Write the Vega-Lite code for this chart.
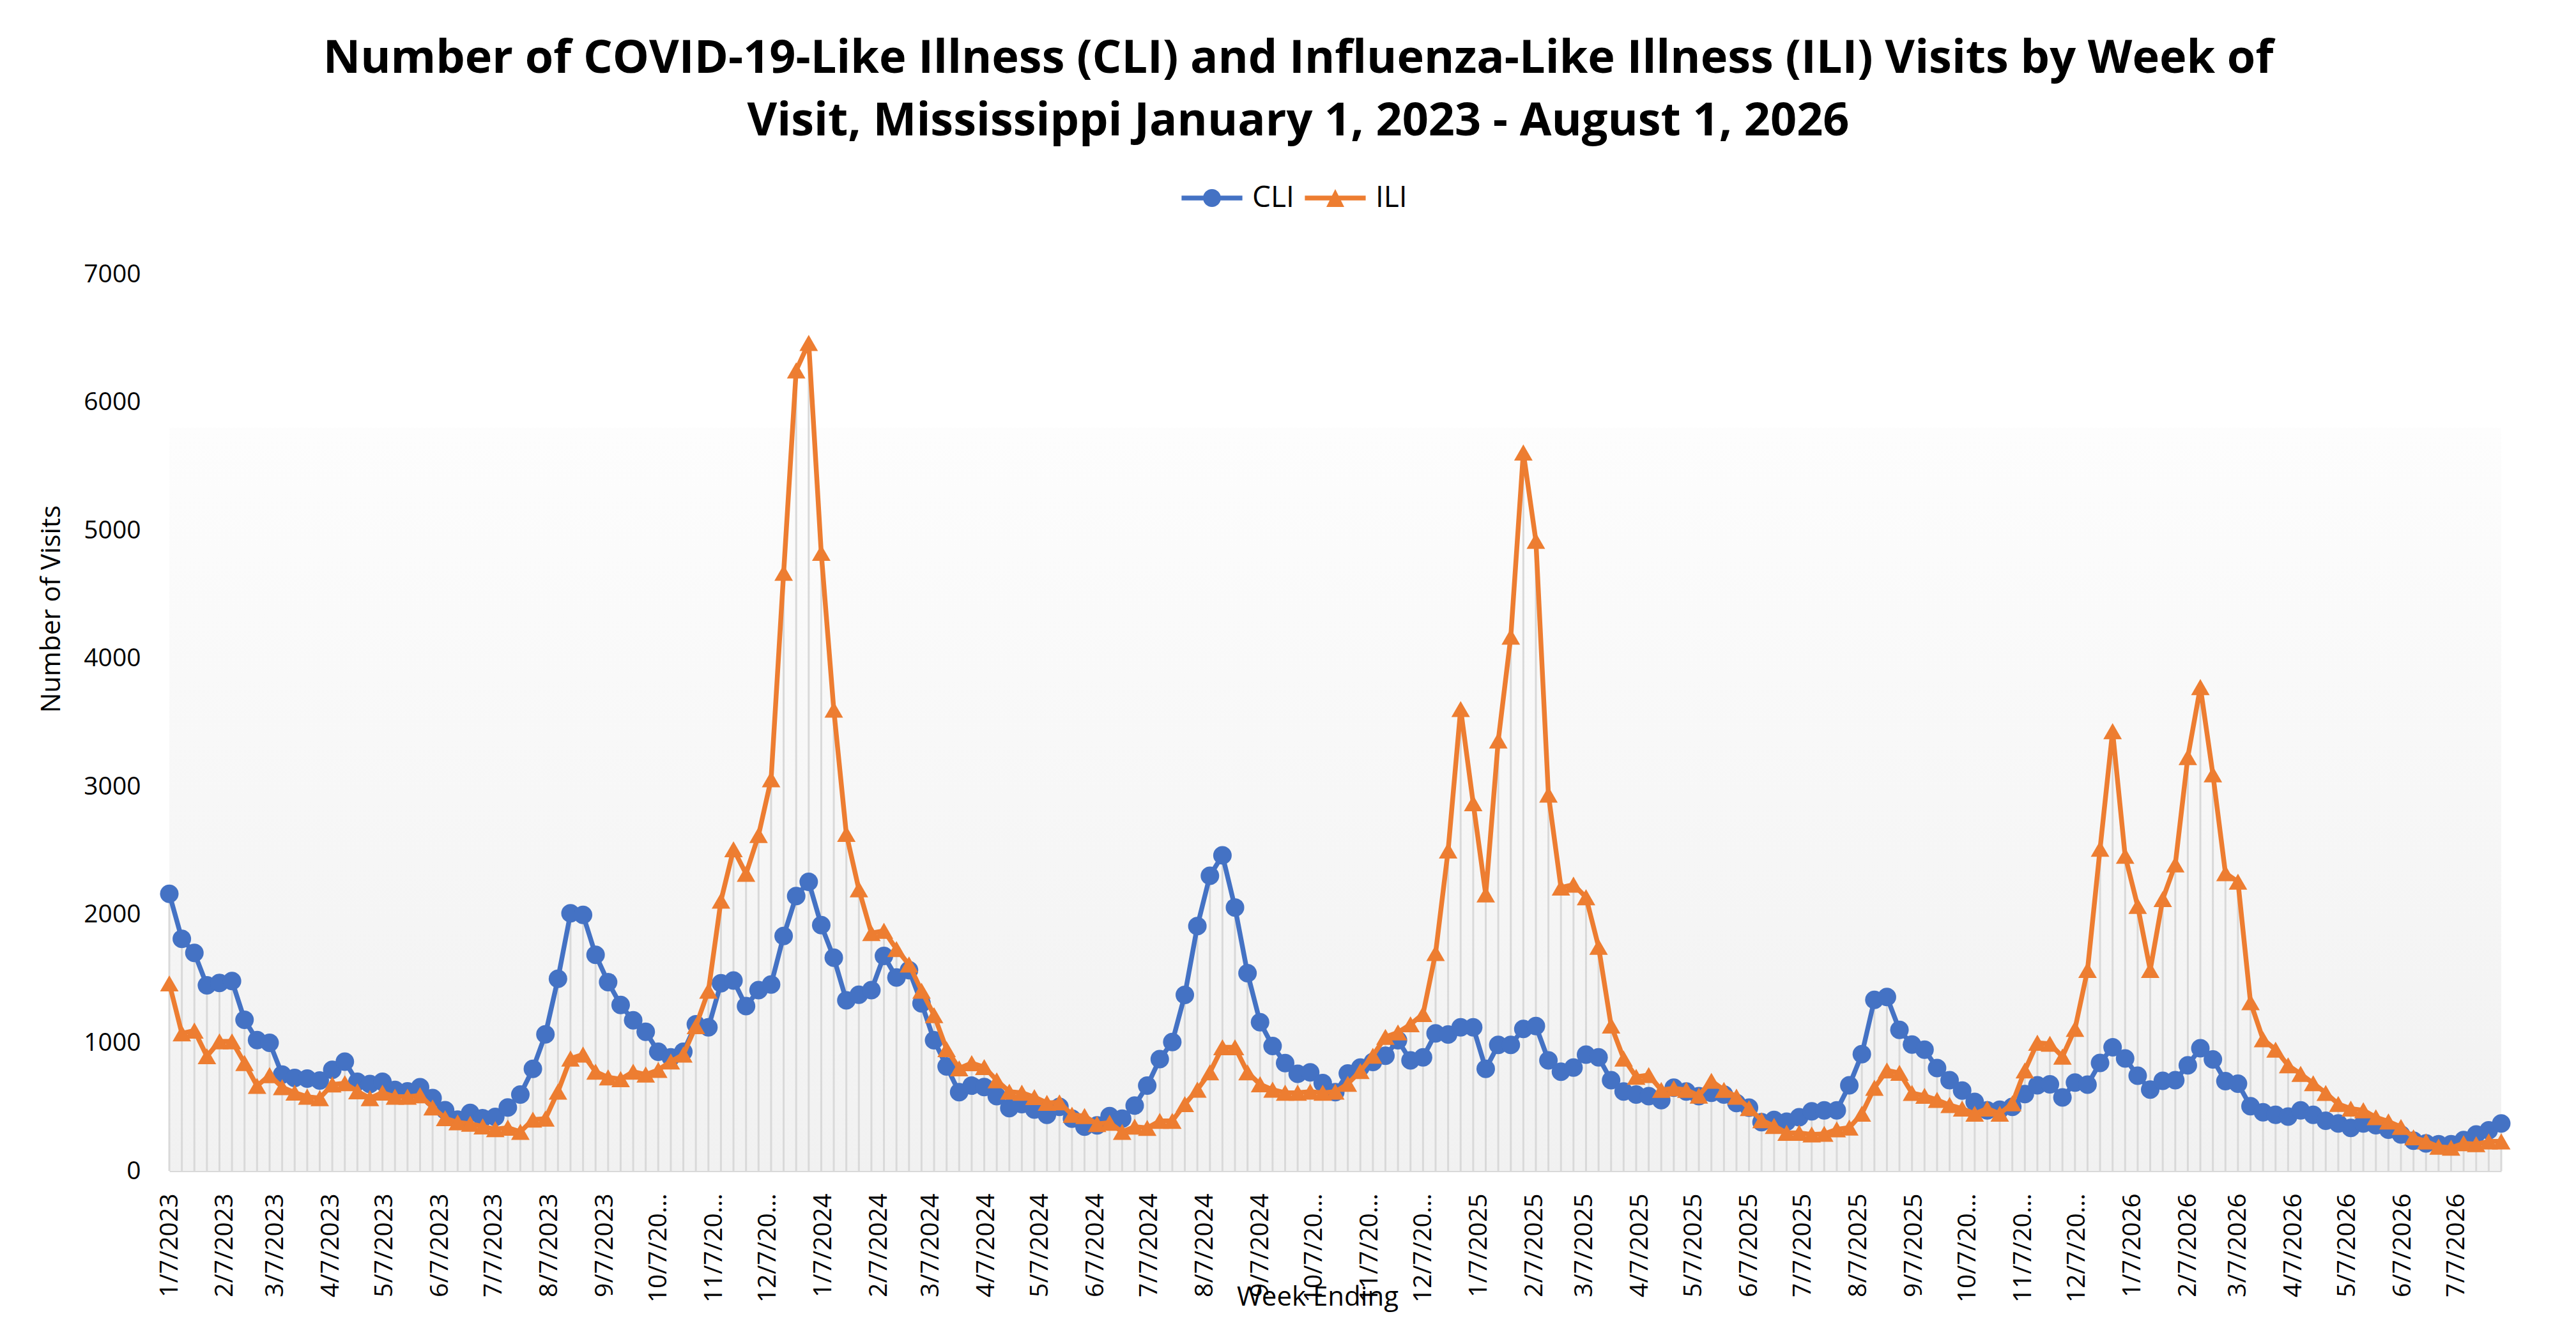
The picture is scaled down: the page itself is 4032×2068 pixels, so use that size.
{
  "$schema": "https://vega.github.io/schema/vega-lite/v6.json",
  "width": 3650,
  "height": 1404,
  "autosize": {"type": "none"},
  "padding": {"left": 265, "top": 429, "right": 117, "bottom": 235},
  "background": "white",
  "title": {
    "text": [
      "Number of COVID-19-Like Illness (CLI) and Influenza-Like Illness (ILI) Visits by Week of",
      "Visit, Mississippi January 1, 2023 - August 1, 2026"
    ],
    "anchor": "middle",
    "font": "Open Sans",
    "fontSize": 72,
    "fontWeight": "bold",
    "color": "black",
    "lineHeight": 98,
    "dx": -58,
    "offset": 60
  },
  "data": {
    "values": [
      {"week": "2023-01-07", "CLI": 2162, "ILI": 1463},
      {"week": "2023-01-14", "CLI": 1811, "ILI": 1074},
      {"week": "2023-01-21", "CLI": 1701, "ILI": 1095},
      {"week": "2023-01-28", "CLI": 1448, "ILI": 895},
      {"week": "2023-02-04", "CLI": 1467, "ILI": 1011},
      {"week": "2023-02-11", "CLI": 1482, "ILI": 1011},
      {"week": "2023-02-18", "CLI": 1179, "ILI": 842},
      {"week": "2023-02-25", "CLI": 1021, "ILI": 663},
      {"week": "2023-03-04", "CLI": 1000, "ILI": 747},
      {"week": "2023-03-11", "CLI": 752, "ILI": 653},
      {"week": "2023-03-18", "CLI": 726, "ILI": 611},
      {"week": "2023-03-25", "CLI": 720, "ILI": 579},
      {"week": "2023-04-01", "CLI": 705, "ILI": 568},
      {"week": "2023-04-08", "CLI": 789, "ILI": 674},
      {"week": "2023-04-15", "CLI": 853, "ILI": 684},
      {"week": "2023-04-22", "CLI": 695, "ILI": 621},
      {"week": "2023-04-29", "CLI": 678, "ILI": 568},
      {"week": "2023-05-06", "CLI": 695, "ILI": 611},
      {"week": "2023-05-13", "CLI": 632, "ILI": 579},
      {"week": "2023-05-20", "CLI": 621, "ILI": 579},
      {"week": "2023-05-27", "CLI": 653, "ILI": 590},
      {"week": "2023-06-03", "CLI": 568, "ILI": 495},
      {"week": "2023-06-10", "CLI": 474, "ILI": 411},
      {"week": "2023-06-17", "CLI": 400, "ILI": 379},
      {"week": "2023-06-24", "CLI": 453, "ILI": 368},
      {"week": "2023-07-01", "CLI": 411, "ILI": 347},
      {"week": "2023-07-08", "CLI": 421, "ILI": 326},
      {"week": "2023-07-15", "CLI": 495, "ILI": 337},
      {"week": "2023-07-22", "CLI": 596, "ILI": 305},
      {"week": "2023-07-29", "CLI": 796, "ILI": 400},
      {"week": "2023-08-05", "CLI": 1066, "ILI": 408},
      {"week": "2023-08-12", "CLI": 1500, "ILI": 619},
      {"week": "2023-08-19", "CLI": 2010, "ILI": 877},
      {"week": "2023-08-26", "CLI": 1998, "ILI": 908},
      {"week": "2023-09-02", "CLI": 1687, "ILI": 774},
      {"week": "2023-09-09", "CLI": 1473, "ILI": 730},
      {"week": "2023-09-16", "CLI": 1295, "ILI": 716},
      {"week": "2023-09-23", "CLI": 1175, "ILI": 774},
      {"week": "2023-09-30", "CLI": 1086, "ILI": 752},
      {"week": "2023-10-07", "CLI": 930, "ILI": 788},
      {"week": "2023-10-14", "CLI": 886, "ILI": 854},
      {"week": "2023-10-21", "CLI": 930, "ILI": 908},
      {"week": "2023-10-28", "CLI": 1144, "ILI": 1130},
      {"week": "2023-11-04", "CLI": 1121, "ILI": 1406},
      {"week": "2023-11-11", "CLI": 1464, "ILI": 2109},
      {"week": "2023-11-18", "CLI": 1486, "ILI": 2510},
      {"week": "2023-11-25", "CLI": 1286, "ILI": 2319},
      {"week": "2023-12-02", "CLI": 1411, "ILI": 2621},
      {"week": "2023-12-09", "CLI": 1455, "ILI": 3057},
      {"week": "2023-12-16", "CLI": 1834, "ILI": 4668},
      {"week": "2023-12-23", "CLI": 2145, "ILI": 6248},
      {"week": "2023-12-30", "CLI": 2256, "ILI": 6462},
      {"week": "2024-01-06", "CLI": 1918, "ILI": 4824},
      {"week": "2024-01-13", "CLI": 1664, "ILI": 3600},
      {"week": "2024-01-20", "CLI": 1331, "ILI": 2630},
      {"week": "2024-01-27", "CLI": 1375, "ILI": 2198},
      {"week": "2024-02-03", "CLI": 1411, "ILI": 1856},
      {"week": "2024-02-10", "CLI": 1678, "ILI": 1874},
      {"week": "2024-02-17", "CLI": 1509, "ILI": 1731},
      {"week": "2024-02-24", "CLI": 1567, "ILI": 1611},
      {"week": "2024-03-02", "CLI": 1308, "ILI": 1406},
      {"week": "2024-03-09", "CLI": 1019, "ILI": 1215},
      {"week": "2024-03-16", "CLI": 815, "ILI": 950},
      {"week": "2024-03-23", "CLI": 614, "ILI": 800},
      {"week": "2024-03-30", "CLI": 665, "ILI": 841},
      {"week": "2024-04-06", "CLI": 655, "ILI": 810},
      {"week": "2024-04-13", "CLI": 583, "ILI": 707},
      {"week": "2024-04-20", "CLI": 490, "ILI": 618},
      {"week": "2024-04-27", "CLI": 521, "ILI": 610},
      {"week": "2024-05-04", "CLI": 479, "ILI": 576},
      {"week": "2024-05-11", "CLI": 438, "ILI": 531},
      {"week": "2024-05-18", "CLI": 500, "ILI": 535},
      {"week": "2024-05-25", "CLI": 407, "ILI": 438},
      {"week": "2024-06-01", "CLI": 345, "ILI": 428},
      {"week": "2024-06-08", "CLI": 355, "ILI": 366},
      {"week": "2024-06-15", "CLI": 428, "ILI": 376},
      {"week": "2024-06-22", "CLI": 407, "ILI": 304},
      {"week": "2024-06-29", "CLI": 510, "ILI": 345},
      {"week": "2024-07-06", "CLI": 665, "ILI": 335},
      {"week": "2024-07-13", "CLI": 872, "ILI": 390},
      {"week": "2024-07-20", "CLI": 1006, "ILI": 390},
      {"week": "2024-07-27", "CLI": 1374, "ILI": 521},
      {"week": "2024-08-03", "CLI": 1911, "ILI": 634},
      {"week": "2024-08-10", "CLI": 2304, "ILI": 769},
      {"week": "2024-08-17", "CLI": 2463, "ILI": 965},
      {"week": "2024-08-24", "CLI": 2056, "ILI": 965},
      {"week": "2024-08-31", "CLI": 1543, "ILI": 769},
      {"week": "2024-09-07", "CLI": 1161, "ILI": 676},
      {"week": "2024-09-14", "CLI": 975, "ILI": 634},
      {"week": "2024-09-21", "CLI": 841, "ILI": 610},
      {"week": "2024-09-28", "CLI": 758, "ILI": 610},
      {"week": "2024-10-05", "CLI": 769, "ILI": 618},
      {"week": "2024-10-12", "CLI": 686, "ILI": 610},
      {"week": "2024-10-19", "CLI": 614, "ILI": 618},
      {"week": "2024-10-26", "CLI": 760, "ILI": 680},
      {"week": "2024-11-02", "CLI": 806, "ILI": 779},
      {"week": "2024-11-09", "CLI": 850, "ILI": 899},
      {"week": "2024-11-16", "CLI": 899, "ILI": 1046},
      {"week": "2024-11-23", "CLI": 1019, "ILI": 1081},
      {"week": "2024-11-30", "CLI": 863, "ILI": 1144},
      {"week": "2024-12-07", "CLI": 886, "ILI": 1224},
      {"week": "2024-12-14", "CLI": 1073, "ILI": 1700},
      {"week": "2024-12-21", "CLI": 1064, "ILI": 2501},
      {"week": "2024-12-28", "CLI": 1121, "ILI": 3605},
      {"week": "2025-01-04", "CLI": 1121, "ILI": 2870},
      {"week": "2025-01-11", "CLI": 797, "ILI": 2158},
      {"week": "2025-01-18", "CLI": 984, "ILI": 3360},
      {"week": "2025-01-25", "CLI": 984, "ILI": 4170},
      {"week": "2025-02-01", "CLI": 1108, "ILI": 5607},
      {"week": "2025-02-08", "CLI": 1130, "ILI": 4918},
      {"week": "2025-02-15", "CLI": 863, "ILI": 2937},
      {"week": "2025-02-22", "CLI": 774, "ILI": 2212},
      {"week": "2025-03-01", "CLI": 806, "ILI": 2234},
      {"week": "2025-03-08", "CLI": 908, "ILI": 2136},
      {"week": "2025-03-15", "CLI": 886, "ILI": 1749},
      {"week": "2025-03-22", "CLI": 708, "ILI": 1135},
      {"week": "2025-03-29", "CLI": 619, "ILI": 877},
      {"week": "2025-04-05", "CLI": 596, "ILI": 734},
      {"week": "2025-04-12", "CLI": 583, "ILI": 748},
      {"week": "2025-04-19", "CLI": 552, "ILI": 632},
      {"week": "2025-04-26", "CLI": 650, "ILI": 645},
      {"week": "2025-05-03", "CLI": 619, "ILI": 632},
      {"week": "2025-05-10", "CLI": 583, "ILI": 587},
      {"week": "2025-05-17", "CLI": 610, "ILI": 703},
      {"week": "2025-05-24", "CLI": 596, "ILI": 632},
      {"week": "2025-05-31", "CLI": 530, "ILI": 579},
      {"week": "2025-06-07", "CLI": 494, "ILI": 490},
      {"week": "2025-06-14", "CLI": 380, "ILI": 395},
      {"week": "2025-06-21", "CLI": 397, "ILI": 351},
      {"week": "2025-06-28", "CLI": 384, "ILI": 297},
      {"week": "2025-07-05", "CLI": 419, "ILI": 297},
      {"week": "2025-07-12", "CLI": 465, "ILI": 284},
      {"week": "2025-07-19", "CLI": 473, "ILI": 289},
      {"week": "2025-07-26", "CLI": 473, "ILI": 324},
      {"week": "2025-08-02", "CLI": 668, "ILI": 338},
      {"week": "2025-08-09", "CLI": 911, "ILI": 446},
      {"week": "2025-08-16", "CLI": 1335, "ILI": 649},
      {"week": "2025-08-23", "CLI": 1357, "ILI": 784},
      {"week": "2025-08-30", "CLI": 1100, "ILI": 765},
      {"week": "2025-09-06", "CLI": 986, "ILI": 608},
      {"week": "2025-09-13", "CLI": 946, "ILI": 586},
      {"week": "2025-09-20", "CLI": 803, "ILI": 554},
      {"week": "2025-09-27", "CLI": 708, "ILI": 514},
      {"week": "2025-10-04", "CLI": 627, "ILI": 486},
      {"week": "2025-10-11", "CLI": 538, "ILI": 446},
      {"week": "2025-10-18", "CLI": 473, "ILI": 486},
      {"week": "2025-10-25", "CLI": 478, "ILI": 446},
      {"week": "2025-11-01", "CLI": 500, "ILI": 527},
      {"week": "2025-11-08", "CLI": 600, "ILI": 784},
      {"week": "2025-11-15", "CLI": 668, "ILI": 1000},
      {"week": "2025-11-22", "CLI": 676, "ILI": 992},
      {"week": "2025-11-29", "CLI": 573, "ILI": 892},
      {"week": "2025-12-06", "CLI": 689, "ILI": 1108},
      {"week": "2025-12-13", "CLI": 673, "ILI": 1568},
      {"week": "2025-12-20", "CLI": 843, "ILI": 2514},
      {"week": "2025-12-27", "CLI": 965, "ILI": 3432},
      {"week": "2026-01-03", "CLI": 878, "ILI": 2459},
      {"week": "2026-01-10", "CLI": 743, "ILI": 2068},
      {"week": "2026-01-17", "CLI": 635, "ILI": 1568},
      {"week": "2026-01-24", "CLI": 703, "ILI": 2122},
      {"week": "2026-01-31", "CLI": 708, "ILI": 2392},
      {"week": "2026-02-07", "CLI": 824, "ILI": 3230},
      {"week": "2026-02-14", "CLI": 957, "ILI": 3776},
      {"week": "2026-02-21", "CLI": 870, "ILI": 3095},
      {"week": "2026-02-28", "CLI": 700, "ILI": 2324},
      {"week": "2026-03-07", "CLI": 681, "ILI": 2257},
      {"week": "2026-03-14", "CLI": 505, "ILI": 1316},
      {"week": "2026-03-21", "CLI": 457, "ILI": 1027},
      {"week": "2026-03-28", "CLI": 438, "ILI": 946},
      {"week": "2026-04-04", "CLI": 424, "ILI": 824},
      {"week": "2026-04-11", "CLI": 473, "ILI": 757},
      {"week": "2026-04-18", "CLI": 438, "ILI": 684},
      {"week": "2026-04-25", "CLI": 392, "ILI": 608},
      {"week": "2026-05-02", "CLI": 370, "ILI": 522},
      {"week": "2026-05-09", "CLI": 335, "ILI": 486},
      {"week": "2026-05-16", "CLI": 370, "ILI": 473},
      {"week": "2026-05-23", "CLI": 357, "ILI": 419},
      {"week": "2026-05-30", "CLI": 322, "ILI": 386},
      {"week": "2026-06-06", "CLI": 284, "ILI": 343},
      {"week": "2026-06-13", "CLI": 235, "ILI": 262},
      {"week": "2026-06-20", "CLI": 214, "ILI": 230},
      {"week": "2026-06-27", "CLI": 208, "ILI": 189},
      {"week": "2026-07-04", "CLI": 208, "ILI": 181},
      {"week": "2026-07-11", "CLI": 241, "ILI": 216},
      {"week": "2026-07-18", "CLI": 284, "ILI": 208},
      {"week": "2026-07-25", "CLI": 316, "ILI": 230},
      {"week": "2026-08-01", "CLI": 370, "ILI": 230}
    ]
  },
  "layer": [
    {
      "data": {"values": [{"area": "plot"}]},
      "mark": {
        "type": "rect",
        "fill": {
          "gradient": "linear",
          "x1": 0, "y1": 0, "x2": 0, "y2": 1,
          "stops": [
            {"offset": 0, "color": "#fdfdfd"},
            {"offset": 1, "color": "#f1f1f1"}
          ]
        }
      },
      "encoding": {
        "x": {"datum": {"year": 2023, "month": 1, "date": 7, "utc": true}, "type": "temporal", "title": "Week Ending"},
        "x2": {"datum": {"year": 2026, "month": 8, "date": 1, "utc": true}},
        "y": {"datum": 5800, "type": "quantitative", "title": "Number of Visits"},
        "y2": {"datum": 0}
      }
    },
    {
      "transform": [{"fold": ["CLI", "ILI"], "as": ["series", "visits"]}],
      "mark": {"type": "rule", "color": "#d9d9d9", "strokeWidth": 3},
      "encoding": {
        "x": {
          "field": "week",
          "type": "temporal",
          "scale": {
            "type": "utc",
            "domain": [
              {"year": 2023, "month": 1, "date": 7, "utc": true},
              {"year": 2026, "month": 8, "date": 1, "utc": true}
            ]
          },
          "axis": {
            "values": [
              {"year": 2023, "month": 1, "date": 7, "utc": true},
              {"year": 2023, "month": 2, "date": 7, "utc": true},
              {"year": 2023, "month": 3, "date": 7, "utc": true},
              {"year": 2023, "month": 4, "date": 7, "utc": true},
              {"year": 2023, "month": 5, "date": 7, "utc": true},
              {"year": 2023, "month": 6, "date": 7, "utc": true},
              {"year": 2023, "month": 7, "date": 7, "utc": true},
              {"year": 2023, "month": 8, "date": 7, "utc": true},
              {"year": 2023, "month": 9, "date": 7, "utc": true},
              {"year": 2023, "month": 10, "date": 7, "utc": true},
              {"year": 2023, "month": 11, "date": 7, "utc": true},
              {"year": 2023, "month": 12, "date": 7, "utc": true},
              {"year": 2024, "month": 1, "date": 7, "utc": true},
              {"year": 2024, "month": 2, "date": 7, "utc": true},
              {"year": 2024, "month": 3, "date": 7, "utc": true},
              {"year": 2024, "month": 4, "date": 7, "utc": true},
              {"year": 2024, "month": 5, "date": 7, "utc": true},
              {"year": 2024, "month": 6, "date": 7, "utc": true},
              {"year": 2024, "month": 7, "date": 7, "utc": true},
              {"year": 2024, "month": 8, "date": 7, "utc": true},
              {"year": 2024, "month": 9, "date": 7, "utc": true},
              {"year": 2024, "month": 10, "date": 7, "utc": true},
              {"year": 2024, "month": 11, "date": 7, "utc": true},
              {"year": 2024, "month": 12, "date": 7, "utc": true},
              {"year": 2025, "month": 1, "date": 7, "utc": true},
              {"year": 2025, "month": 2, "date": 7, "utc": true},
              {"year": 2025, "month": 3, "date": 7, "utc": true},
              {"year": 2025, "month": 4, "date": 7, "utc": true},
              {"year": 2025, "month": 5, "date": 7, "utc": true},
              {"year": 2025, "month": 6, "date": 7, "utc": true},
              {"year": 2025, "month": 7, "date": 7, "utc": true},
              {"year": 2025, "month": 8, "date": 7, "utc": true},
              {"year": 2025, "month": 9, "date": 7, "utc": true},
              {"year": 2025, "month": 10, "date": 7, "utc": true},
              {"year": 2025, "month": 11, "date": 7, "utc": true},
              {"year": 2025, "month": 12, "date": 7, "utc": true},
              {"year": 2026, "month": 1, "date": 7, "utc": true},
              {"year": 2026, "month": 2, "date": 7, "utc": true},
              {"year": 2026, "month": 3, "date": 7, "utc": true},
              {"year": 2026, "month": 4, "date": 7, "utc": true},
              {"year": 2026, "month": 5, "date": 7, "utc": true},
              {"year": 2026, "month": 6, "date": 7, "utc": true},
              {"year": 2026, "month": 7, "date": 7, "utc": true}
            ],
            "labelExpr": "length(utcFormat(datum.value, '%-m/%-d/%Y')) > 8 ? slice(utcFormat(datum.value, '%-m/%-d/%Y'), 0, 7) + '...' : utcFormat(datum.value, '%-m/%-d/%Y')",
            "labelAngle": 270,
            "labelFont": "Open Sans",
            "labelFontSize": 39,
            "labelColor": "black",
            "labelPadding": 35,
            "labelFlush": false,
            "labelOverlap": false,
            "labelBound": false,
            "labelLimit": 0,
            "ticks": false,
            "tickSize": 0,
            "grid": false,
            "domainColor": "#d9d9d9",
            "domainWidth": 3,
            "titleFont": "Open Sans",
            "titleFontSize": 42,
            "titleFontWeight": "normal",
            "titleColor": "black",
            "titleX": 1797,
            "titleY": 210,
            "titleAngle": 0,
            "titleAlign": "center",
            "titleBaseline": "alphabetic"
          },
          "title": "Week Ending"
        },
        "y": {
          "aggregate": "max",
          "field": "visits",
          "type": "quantitative",
          "scale": {"domain": [0, 7000], "nice": false},
          "axis": {
            "values": [0, 1000, 2000, 3000, 4000, 5000, 6000, 7000],
            "format": "d",
            "labelFont": "Open Sans",
            "labelFontSize": 39,
            "labelColor": "black",
            "labelPadding": 45,
            "ticks": false,
            "tickSize": 0,
            "domain": false,
            "grid": false,
            "titleFont": "Open Sans",
            "titleFontSize": 42,
            "titleFontWeight": "normal",
            "titleColor": "black",
            "titleX": -172,
            "titleY": 524,
            "titleAngle": 270,
            "titleAlign": "center",
            "titleBaseline": "alphabetic"
          },
          "title": "Number of Visits"
        },
        "y2": {"datum": 0}
      }
    },
    {
      "mark": {"type": "line", "color": "#4472C4", "strokeWidth": 7.5, "strokeJoin": "round", "strokeCap": "round"},
      "encoding": {
        "x": {"field": "week", "type": "temporal", "title": "Week Ending"},
        "y": {"field": "CLI", "type": "quantitative", "title": "Number of Visits"}
      }
    },
    {
      "mark": {"type": "point", "shape": "circle", "filled": true, "color": "#4472C4", "size": 841, "opacity": 1},
      "encoding": {
        "x": {"field": "week", "type": "temporal", "title": "Week Ending"},
        "y": {"field": "CLI", "type": "quantitative", "title": "Number of Visits"}
      }
    },
    {
      "mark": {"type": "line", "color": "#ED7D31", "strokeWidth": 7.5, "strokeJoin": "round", "strokeCap": "round"},
      "encoding": {
        "x": {"field": "week", "type": "temporal", "title": "Week Ending"},
        "y": {"field": "ILI", "type": "quantitative", "title": "Number of Visits"}
      }
    },
    {
      "mark": {"type": "point", "shape": "triangle-up", "filled": true, "color": "#ED7D31", "size": 841, "opacity": 1},
      "encoding": {
        "x": {"field": "week", "type": "temporal", "title": "Week Ending"},
        "y": {"field": "ILI", "type": "quantitative", "title": "Number of Visits"}
      }
    },
    {
      "data": {"values": [{"series": "CLI"}, {"series": "ILI"}]},
      "transform": [{"filter": "datum.series == 'none'"}],
      "mark": {"type": "point", "filled": true, "size": 784, "opacity": 1},
      "encoding": {
        "color": {
          "field": "series",
          "type": "nominal",
          "scale": {"domain": ["CLI", "ILI"], "range": ["#4472C4", "#ED7D31"]},
          "legend": {"title": null}
        },
        "shape": {
          "field": "series",
          "type": "nominal",
          "scale": {
            "domain": ["CLI", "ILI"],
            "range": [
              "M-3.4,-0.27L3.4,-0.27L3.4,0.27L-3.4,0.27Z M-1,0A1,1,0,1,1,1,0A1,1,0,1,1,-1,0Z",
              "M-3.4,-0.27L3.4,-0.27L3.4,0.27L-3.4,0.27Z M0,-1L1,1L-1,1Z"
            ]
          },
          "legend": {"title": null}
        }
      }
    }
  ],
  "config": {
    "view": {"stroke": null},
    "font": "Open Sans",
    "legend": {
      "orient": "none",
      "legendX": 1609,
      "legendY": -142,
      "direction": "horizontal",
      "padding": 0,
      "symbolSize": 784,
      "symbolStrokeWidth": 0,
      "symbolOpacity": 1,
      "labelFont": "Open Sans",
      "labelFontSize": 46,
      "labelColor": "black",
      "labelOffset": 40,
      "columnPadding": 16
    }
  }
}
